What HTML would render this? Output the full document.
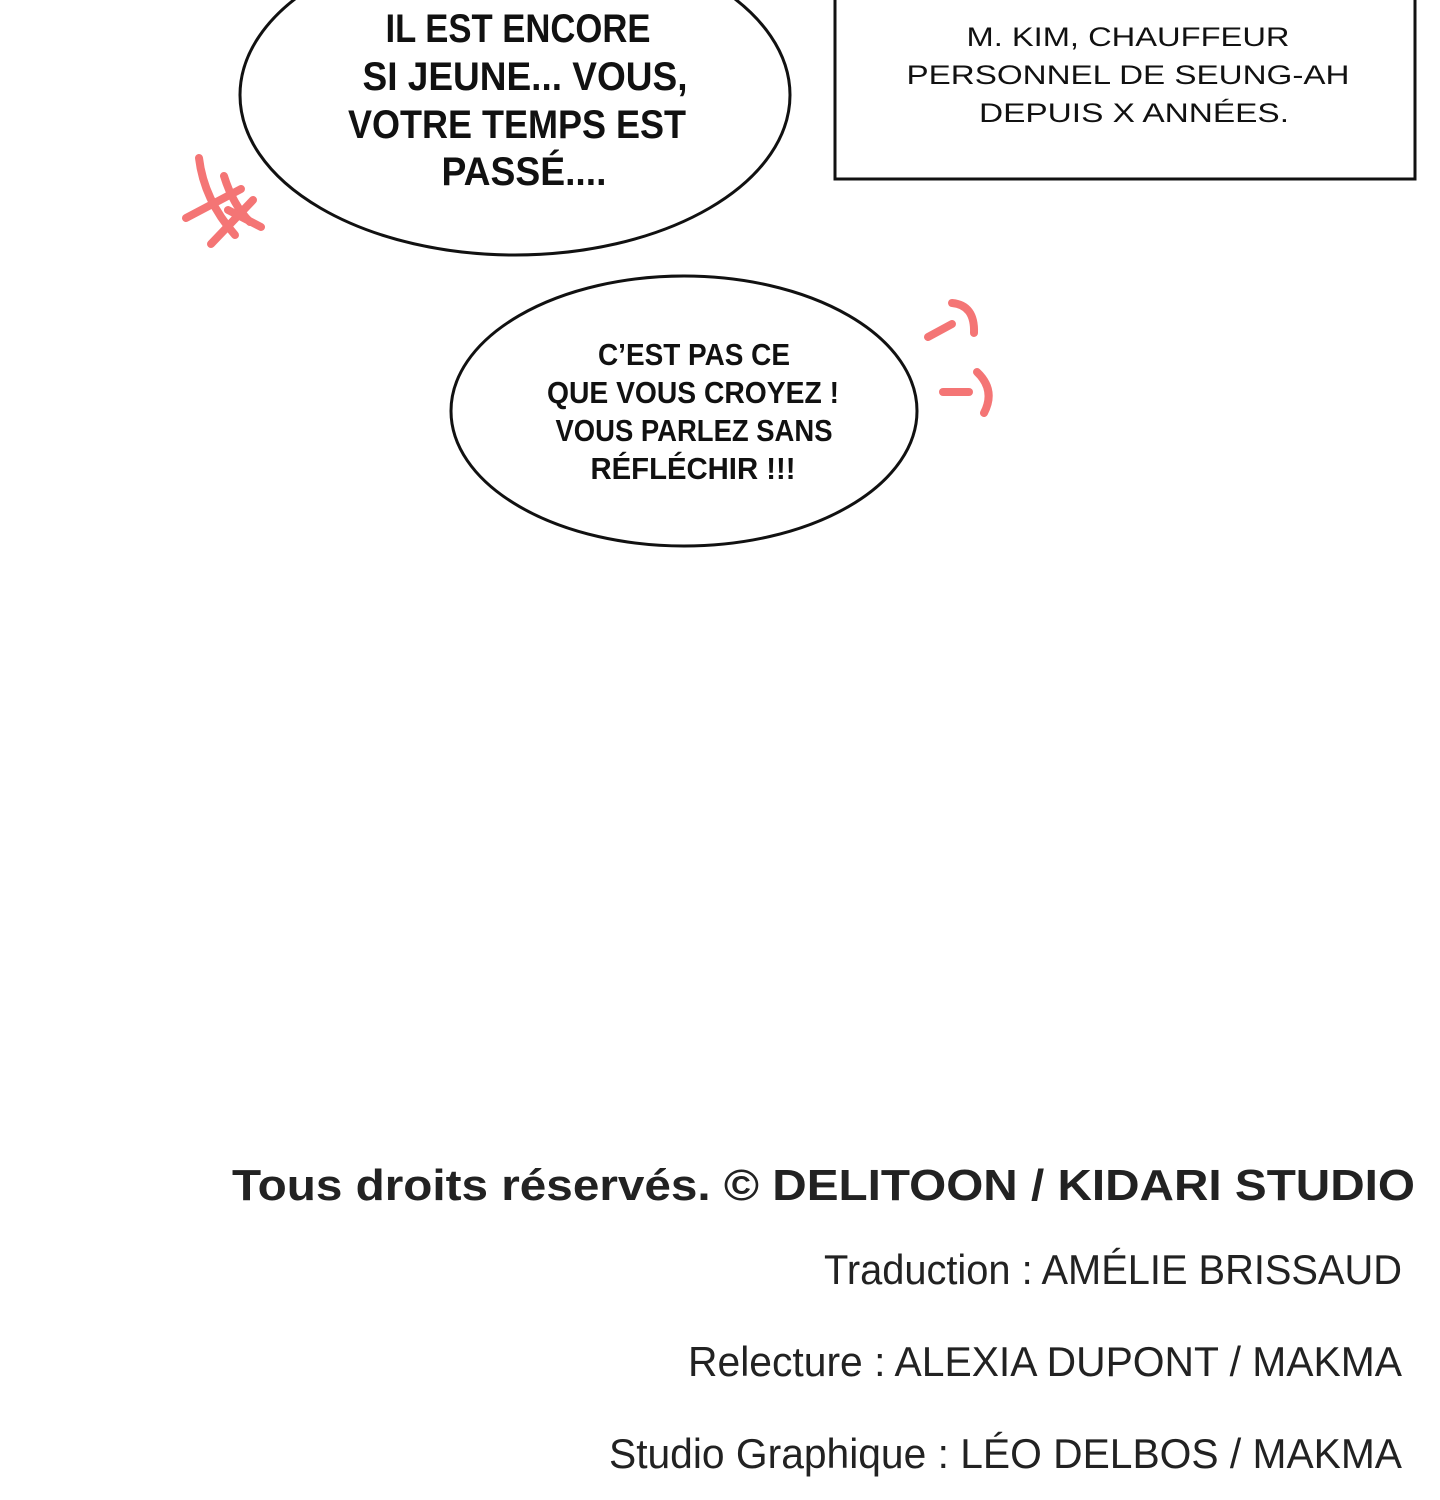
<!DOCTYPE html>
<html><head><meta charset="utf-8"><style>
html,body{margin:0;padding:0;background:#fff;width:1440px;height:1500px;overflow:hidden}
svg{display:block}
</style></head><body>
<svg width="1440" height="1500" xmlns="http://www.w3.org/2000/svg">
<rect width="1440" height="1500" fill="#fff"/>
<ellipse cx="515" cy="95" rx="275" ry="160" fill="#fff" stroke="#111" stroke-width="3"/>
<ellipse cx="684" cy="411" rx="233" ry="135" fill="#fff" stroke="#111" stroke-width="3"/>
<rect x="835" y="-10" width="580" height="189" fill="#fff" stroke="#111" stroke-width="3"/>
<g stroke="#f47575" stroke-width="8" stroke-linecap="round" fill="none">
<path d="M199 158 Q204 200 235 235"/>
<path d="M224 176 Q233 205 250 222"/>
<path d="M186 218 L241 189"/>
<path d="M211 244 L253 200"/>
<path d="M228 210 L261 227"/>
<path d="M928 337 L952 324"/>
<path d="M952 303 Q975 305 974 333"/>
<path d="M943 392 L969 392"/>
<path d="M977 372 Q996 390 984 413"/>
</g>
<g font-family="Liberation Sans, sans-serif" fill="#111" text-anchor="middle" font-weight="bold">
<text x="518" y="42" font-size="40" textLength="265" lengthAdjust="spacingAndGlyphs">IL EST ENCORE</text>
<text x="525" y="90" font-size="40" textLength="325" lengthAdjust="spacingAndGlyphs">SI JEUNE... VOUS,</text>
<text x="517" y="138" font-size="40" textLength="338" lengthAdjust="spacingAndGlyphs">VOTRE TEMPS EST</text>
<text x="524" y="185" font-size="40" textLength="165" lengthAdjust="spacingAndGlyphs">PASSÉ....</text>
<text x="694" y="365" font-size="31" textLength="192" lengthAdjust="spacingAndGlyphs">C’EST PAS CE</text>
<text x="693" y="403" font-size="31" textLength="292" lengthAdjust="spacingAndGlyphs">QUE VOUS CROYEZ !</text>
<text x="694" y="441" font-size="31" textLength="277" lengthAdjust="spacingAndGlyphs">VOUS PARLEZ SANS</text>
<text x="693" y="479" font-size="31" textLength="205" lengthAdjust="spacingAndGlyphs">RÉFLÉCHIR !!!</text>
<g font-weight="normal" font-size="27">
<text x="1128" y="46" textLength="323" lengthAdjust="spacingAndGlyphs">M. KIM, CHAUFFEUR</text>
<text x="1128" y="84" textLength="443" lengthAdjust="spacingAndGlyphs">PERSONNEL DE SEUNG-AH</text>
<text x="1134" y="122" textLength="310" lengthAdjust="spacingAndGlyphs">DEPUIS X ANNÉES.</text>
</g>
</g>
<g font-family="Liberation Sans, sans-serif" fill="#222">
<text x="232" y="1200" font-size="44" font-weight="bold" textLength="1183" lengthAdjust="spacingAndGlyphs">Tous droits réservés. © DELITOON / KIDARI STUDIO</text>
<text x="1402" y="1284" font-size="42" text-anchor="end" textLength="578" lengthAdjust="spacingAndGlyphs">Traduction : AMÉLIE BRISSAUD</text>
<text x="1402" y="1376" font-size="42" text-anchor="end" textLength="714" lengthAdjust="spacingAndGlyphs">Relecture : ALEXIA DUPONT / MAKMA</text>
<text x="1402" y="1468" font-size="42" text-anchor="end" textLength="793" lengthAdjust="spacingAndGlyphs">Studio Graphique : LÉO DELBOS / MAKMA</text>
</g>
</svg>
</body></html>
